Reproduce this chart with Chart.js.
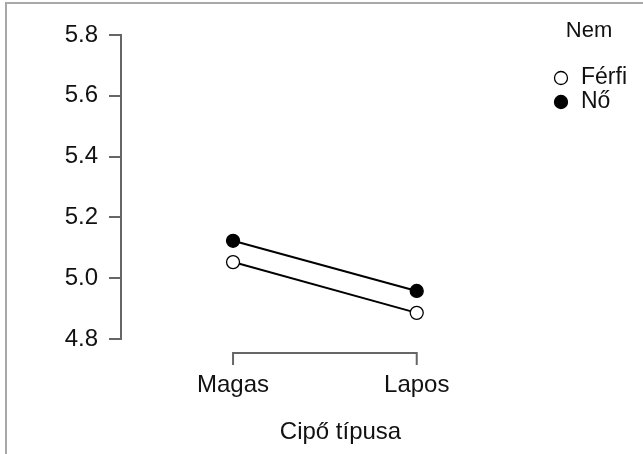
<!DOCTYPE html>
<html>
<head>
<meta charset="utf-8">
<script src="https://cdn.jsdelivr.net/npm/chart.js@4/dist/chart.umd.min.js"></script>
<style>
  html, body { margin: 0; padding: 0; background: #fff; }
  #wrap { position: relative; width: 643px; height: 454px; overflow: hidden; }
  #frame { position: absolute; left: 5px; top: 2px; right: 0; bottom: 0;
           border-left: 2px solid #a8a8a8; border-top: 2px solid #a8a8a8; }
  canvas { position: absolute; left: 0; top: 0; }
</style>
</head>
<body>
<div id="wrap">
  <div id="frame"></div>
  <canvas id="plot" width="643" height="454"></canvas>
</div>
<script>
const categories = ["Magas", "Lapos"];
const groups = ["Férfi", "Nő"];
const ferfiValues = [5.053, 4.886];
const noValues = [5.123, 4.958];
const yTicks = [4.8, 5.0, 5.2, 5.4, 5.6, 5.8];
const xTitle = "Cipő típusa";
const legendTitle = "Nem";

Chart.defaults.font.family = "'Liberation Sans', Arial, sans-serif";
Chart.defaults.color = "#111";

// legend drawn by hand, top right
const legendPlugin = {
  id: "jaspLegend",
  afterDraw(chart) {
    const ctx = chart.ctx;
    ctx.save();
    ctx.fillStyle = "#111";
    ctx.font = "22px 'Liberation Sans', Arial, sans-serif";
    ctx.textAlign = "center";
    ctx.textBaseline = "middle";
    ctx.fillText(legendTitle, 589, 31);
    ctx.font = "23px 'Liberation Sans', Arial, sans-serif";
    chart.data.datasets.forEach((ds, i) => {
      const y = 78 + i * 24;
      ctx.beginPath();
      ctx.arc(561, y, 6.5, 0, Math.PI * 2);
      ctx.fillStyle = ds.pointBackgroundColor;
      ctx.fill();
      ctx.lineWidth = 1.3;
      ctx.strokeStyle = "#000";
      ctx.stroke();
      ctx.fillStyle = "#111";
      ctx.textAlign = "left";
      ctx.fillText(ds.label, 581, y);
    });
    ctx.restore();
  }
};

// bracket style x axis line between the two categories
const bracketPlugin = {
  id: "bracket",
  afterDraw(chart) {
    const x = chart.scales.x;
    const ctx = chart.ctx;
    const x0 = x.getPixelForValue(0);
    const x1 = x.getPixelForValue(categories.length - 1);
    const top = chart.chartArea.bottom + 14;
    ctx.save();
    ctx.strokeStyle = "#666";
    ctx.lineWidth = 2;
    ctx.beginPath();
    ctx.moveTo(x0, top + 12);
    ctx.lineTo(x0, top);
    ctx.lineTo(x1, top);
    ctx.lineTo(x1, top + 12);
    ctx.stroke();
    ctx.restore();
  }
};

new Chart(document.getElementById("plot"), {
  type: "line",
  data: {
    datasets: [
      {
        label: groups[0],
        data: ferfiValues.map((v, i) => ({ x: i, y: v })),
        borderColor: "#000",
        borderWidth: 2,
        pointRadius: 6.5,
        pointBackgroundColor: "#fff",
        pointBorderColor: "#000",
        pointBorderWidth: 1.3,
        clip: false,
      },
      {
        label: groups[1],
        data: noValues.map((v, i) => ({ x: i, y: v })),
        borderColor: "#000",
        borderWidth: 2,
        pointRadius: 6.5,
        pointBackgroundColor: "#000",
        pointBorderColor: "#000",
        pointBorderWidth: 1.3,
        clip: false,
      },
    ],
  },
  options: {
    responsive: false,
    animation: false,
    layout: {
      padding: { top: 35, right: 83, bottom: 0, left: 0 },
    },
    plugins: {
      legend: { display: false },
      tooltip: { enabled: false },
    },
    scales: {
      x: {
        type: "linear",
        min: -0.61,
        max: 1.78,
        afterBuildTicks: (scale) => {
          scale.ticks = categories.map((c, i) => ({ value: i }));
        },
        afterFit: (scale) => {
          scale.height = 115;
        },
        ticks: {
          callback: (v) => categories[v],
          font: { size: 24 },
          color: "#111",
          padding: 24,
          maxRotation: 0,
        },
        grid: { display: false },
        border: { display: false },
        title: {
          display: true,
          text: xTitle,
          font: { size: 24 },
          color: "#111",
          padding: { top: 0, bottom: 7 },
        },
      },
      y: {
        min: 4.8,
        max: 5.8,
        afterBuildTicks: (scale) => {
          scale.ticks = yTicks.map((v) => ({ value: v }));
        },
        afterFit: (scale) => {
          scale.width = 121;
        },
        ticks: {
          callback: (v) => v.toFixed(1),
          font: { size: 24 },
          color: "#111",
          padding: 11,
        },
        grid: {
          drawOnChartArea: false,
          drawTicks: true,
          tickLength: 12,
          color: "#666",
          lineWidth: 2,
        },
        border: { display: true, color: "#666", width: 2 },
      },
    },
  },
  plugins: [legendPlugin, bracketPlugin],
});
</script>
</body>
</html>
